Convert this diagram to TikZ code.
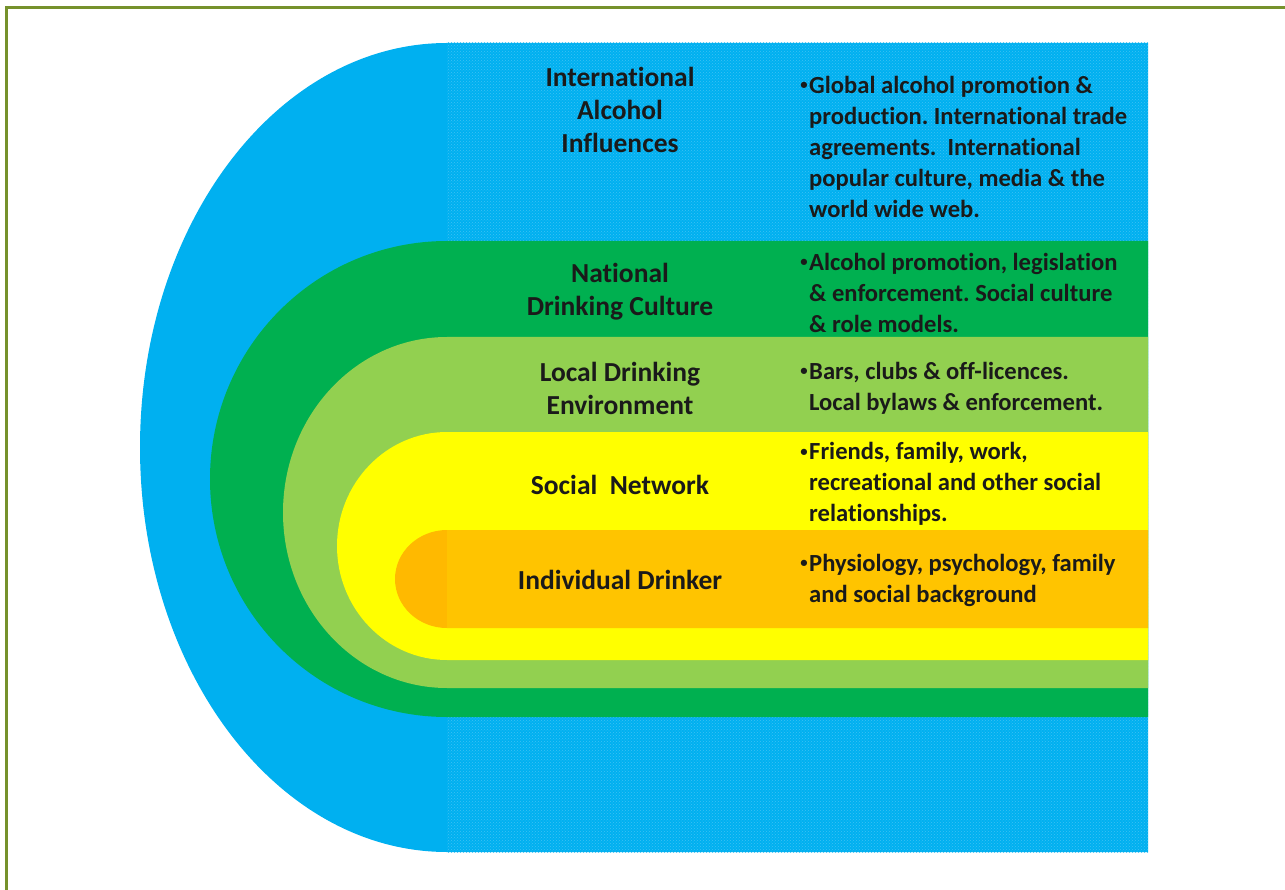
\documentclass[tikz,border=0pt]{standalone}
\usepackage{graphicx}
\usepackage{fontspec}
\setmainfont{Carlito}[Ligatures=NoCommon]
\usetikzlibrary{patterns}
\frenchspacing
\definecolor{frameolive}{HTML}{76922C}
\definecolor{intblue}{HTML}{00B0F0}
\definecolor{hatchblue}{HTML}{3FC2F4}
\definecolor{natgreen}{HTML}{00B050}
\definecolor{locgreen}{HTML}{92D050}
\definecolor{socyellow}{HTML}{FFFF00}
\definecolor{indorange}{HTML}{FFC400}
\definecolor{indorangedk}{HTML}{FFB900}
\definecolor{txt}{HTML}{1A1A1A}
\newcommand{\bul}{\llap{\raisebox{0.3ex}{\scalebox{0.6}{•}}\hspace{1.5pt}}}
\tikzstyle{lbl} = [text=txt, align=center, inner sep=0pt,
    font=\bfseries\fontsize{27.5}{33}\selectfont]
\tikzstyle{note} = [text=txt, align=left, anchor=west, inner sep=0pt,
    font=\bfseries\fontsize{24.6}{31}\selectfont]
\begin{document}
\begin{tikzpicture}[x=1pt,y=-1pt]
\useasboundingbox (0,0) rectangle (1285,890);

% frame (only top and left edges show)
\draw[frameolive, line width=2.5pt] (6.5,890) -- (6.5,7.5) -- (1285,7.5);

% nested layers, outermost first
\fill[intblue] (1148,43) -- (447,43) arc (270:90:307 and 404.5) -- (1148,852) -- cycle;
\fill[pattern=crosshatch dots, pattern color=hatchblue] (447,43) rectangle (1148,852);
\fill[natgreen] (1148,241) -- (447,241) arc (270:90:237 and 238) -- (1148,717) -- cycle;
\fill[locgreen] (1148,337) -- (447,337) arc (270:90:164 and 175.5) -- (1148,688) -- cycle;
\fill[socyellow] (1148,432) -- (447,432) arc (270:90:110 and 114) -- (1148,660) -- cycle;
\fill[indorangedk] (1148,530) -- (447,530) arc (270:90:52 and 49) -- (1148,628) -- cycle;
\fill[indorange] (447,530) rectangle (1148,628);

% level names
\node (intl) [lbl] at (620,110) {International\\Alcohol\\Influences};
\node (natl) [lbl] at (620,292) {National\\Drinking Culture};
\node (local) [lbl] at (620,388) {Local Drinking\\Environment};
\node (social) [lbl] at (620,485) {Social\ \ Network};
\node (indiv) [lbl] at (620,580) {Individual Drinker};

% descriptions
\node (intlnote) [note] at (809,147) {\bul Global alcohol promotion \&\\production. International trade\\agreements.\ \ International\\popular culture, media \& the\\world wide web.};
\node (natlnote) [note] at (809,293) {\bul Alcohol promotion, legislation\\\& enforcement. Social culture\\\& role models.};
\node (localnote) [note] at (809,388) {\bul Bars, clubs \& off-licences.\\Local bylaws \& enforcement.};
\node (socialnote) [note] at (809,484) {\bul Friends, family, work,\\recreational and other social\\relationships.};
\node (indivnote) [note] at (809,580) {\bul Physiology, psychology, family\\and social background};
\end{tikzpicture}
\end{document}
